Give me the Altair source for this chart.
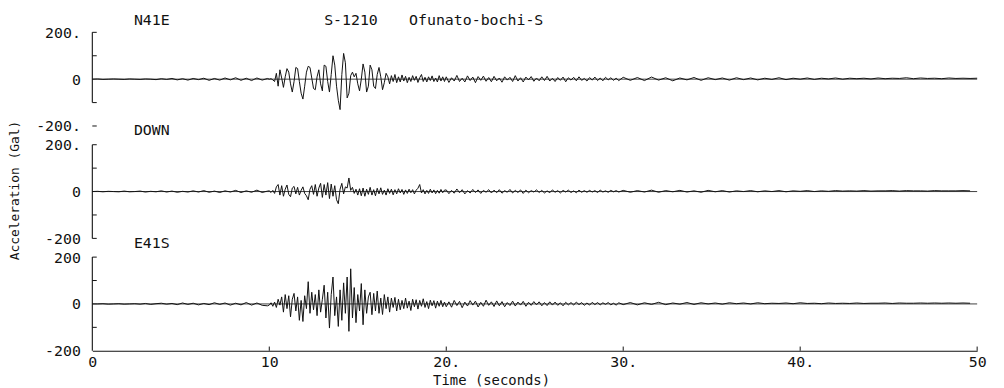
import altair as alt
import pandas as pd

# ---------------- data read from the record ----------------
COMPONENTS = ["N41E", "DOWN", "E41S"]
PANEL_OFFSET = [0, -480, -960]          # vertical stacking of the three traces (Gal units)

# sample-time grid (s)
T_A = [round(0.3 * i, 2) for i in range(34)]          # 0 - 9.9
T_B = [round(10 + 0.1 * i, 2) for i in range(100)]    # 10 - 19.9
T_C1 = [round(20 + 0.15 * i, 2) for i in range(66)]   # 20 - 29.75
T_C2 = [round(30 + 0.4 * i, 2) for i in range(51)]    # 30 - 50

N41E_A = [0, 1, -1, 0, 1, 0, -1, 1, 0, -1, 1, 0, -2, 2, -1, 3, -3, 2, -4, 3, -2, 4, -5, 3,
          -4, 5, -3, 6, -5, 4, -6, 5, -4, 3]
N41E_B = [0, 2, -3, -10, 25, -30, 40, 5, -35, 10,
          45, 30, -20, -55, -10, 50, 45, -10, -60, -85,
          -30, 30, 55, 50, 5, -40, -45, 10, 40, -20,
          -50, 60, 55, -10, -55, 20, 100, 60, -30, -90,
          -130, 20, 110, 70, -80, -60, 15, 30, 10, 25,
          -20, -50, 0, 65, 30, -55, -30, 60, 40, -30,
          -40, 20, 50, 10, -45, -15, 25, 10, -20, 15,
          -10, 20, -15, 10, -12, 18, -8, 12, -15, 8,
          -10, 15, -5, 12, -14, 6, 20, -10, 8, -12,
          10, -6, 14, -10, 5, -12, 15, -8, 10, -10]
N41E_C1 = [10, -14, 6, -8, 16, -10, 4, -12, 14, -6, 9, -15, 11, -5, 13, -9, 7, -11,
           12, -7, 5, -13, 10, -4, 8, -10, 15, -8, 6, -12, 9, -3, 11, -9, 5, -7,
           10, -6, 12, -8, 4, -10, 7, -5, 9, -11, 6, -4, 8, -7, 10, -5,
           3, -8, 7, -4, 9, -6, 5, -7, 8, -3, 6, -5, 4, -6]
N41E_C2 = [8, -5, 7, -6, 9, -4, 6, -7, 5, -3, 7, -5, 6, -2, 5, -4, 6,
           -2, 5, -3, 4, -1, 6, -2, 4, 0, 5, -1, 4, 1, 5, 0, 4, 2,
           4, 1, 5, 2, 4, 3, 6, 2, 5, 3, 4, 2, 5, 3, 4, 3, 4]

DOWN_A = [0, 1, -1, 1, 0, -1, 2, -1, 0, 2, -2, 1, -1, 3, -2, 2, -3, 1, -2, 3, -2, 4, -3, 2,
          -4, 3, -2, 5, -4, 3, -3, 6, -4, 2]
DOWN_B = [3, -4, 5, -8, 20, 30, -15, 25, -20, 10,
          28, -12, -22, 15, 22, -10, 18, -15, 5, 20,
          -8, -18, -35, 10, 25, -12, 30, -20, 15, 35,
          -25, 30, -15, 38, -30, 32, -20, 25, -35, -52,
          10, 35, -10, 20, 15, 58, 5, 18, -8, 10,
          -15, 12, -18, 15, -20, 10, -12, 18, -15, 8,
          -18, 14, -10, 16, -12, 6, -15, 12, -8, 10,
          -14, 8, -10, 12, -6, 9, -12, 7, -8, 10,
          -5, 8, -10, 6, 14, 30, -6, 8, -10, 5,
          -8, 10, -6, 7, -9, 5, -7, 9, -5, 6]
DOWN_C1 = [7, -9, 5, -7, 11, -5, 8, -10, 4, -6, 9, -4, 7, -8, 5, -3, 8, -6,
           6, -5, 8, -7, 4, -3, 9, -6, 5, -4, 7, -8, 6, -5, 4, -2, 7, -4,
           5, -6, 3, -5, 7, -3, 4, -6, 5, -2, 6, -4, 3, -5, 6, -3,
           4, -3, 5, -2, 4, -4, 6, -2, 3, -3, 5, -1, 4, -2]
DOWN_C2 = [5, -3, 4, -2, 6, -3, 4, -1, 5, -2, 3, -3, 5, -1, 4, -2, 3,
           0, 4, -1, 3, 0, 4, -1, 3, 1, 4, 0, 3, 1, 4, 2, 3,
           2, 4, 2, 3, 3, 4, 2, 4, 3, 3, 2, 4, 3, 3, 3, 4, 3]

E41S_A = [0, 0, 1, -1, 0, 1, -1, 0, 1, -1, 2, -2, 1, 3, -1, 2, -3, 4, -2, 3, -4, 2, -3, 5,
          -2, 4, -5, 3, -4, 6, -5, 4, -6, -8]
E41S_B = [-5, 5, -10, 8, -15, 20, -5, 30, -35, 40,
          -20, 35, -55, 20, 45, -30, 30, -70, 15, -75,
          35, -20, 95, -40, 50, -25, 40, -50, 60, -35,
          20, 80, -60, 50, -103, 40, 115, -50, 30, -96,
          60, -70, 90, -40, 115, -117, 150, -60, 70, -80,
          40, -30, 87, -89, 60, -40, 30, 50, -46, 45,
          -30, 55, -40, 25, -45, 40, -20, 30, -35, 25,
          -15, 28, -30, 20, -25, 15, -20, 25, -18, 12,
          -28, 20, -12, 18, -22, 15, -10, 22, -15, 10,
          -20, 16, -8, 14, -18, 12, -10, 15, -12, 8]
E41S_C1 = [-12, 9, -14, 15, -7, 11, -16, 8, -9, 14, -5, 12, -13, 7, -10, 16, -6, 9,
           -11, 13, -8, 10, -12, 6, -7, 12, -9, 8, -5, 11, -10, 7, -6, 10, -4, 9,
           -8, 6, -7, 9, -5, 8, -6, 5, -8, 7, -4, 6, -5, 8, -3, 6,
           -6, 4, -5, 7, -3, 6, -4, 5, -2, 6, -4, 3, -5, 5]
E41S_C2 = [-3, 6, -4, 5, -2, 7, -3, 4, -1, 6, -2, 5, 0, 4, -1, 5, 1,
           4, 0, 5, 1, 3, 2, 4, 1, 5, 2, 3, 1, 4, 2, 3, 2,
           4, 2, 3, 3, 4, 2, 4, 3, 3, 4, 3, 4, 3, 4, 3, 4, 3]

SERIES = {
    "N41E": (N41E_A, N41E_B, N41E_C1, N41E_C2),
    "DOWN": (DOWN_A, DOWN_B, DOWN_C1, DOWN_C2),
    "E41S": (E41S_A, E41S_B, E41S_C1, E41S_C2),
}
GRIDS = (T_A, T_B, T_C1, T_C2)

# per-panel axis labels
Y_TICK_VALUES = [200, 0, -200]
Y_TICK_TEXT = {
    "N41E": ["200.", "0", "-200."],
    "DOWN": ["200.", "0", "-200"],
    "E41S": ["200", "0", "-200"],
}
X_TICK_VALUES = [0, 10, 20, 30, 40, 50]
X_TICK_TEXT = ["0", "10", "20.", "30.", "40.", "50"]

# bracket extent of each panel's vertical axis (Gal) and its small ticks
BRACKET = {"N41E": (200, -100), "DOWN": (200, -200), "E41S": (200, -200)}
BRACKET_TICKS = {"N41E": [200, 100, -100, -200], "DOWN": [200, 100, -100, -200],
                 "E41S": [200, 100, -100]}

TITLE_TEXT = ["S-1210", "Ofunato-bochi-S"]
TITLE_T = [13.1, 17.9]
TITLE_Y = [251, 251]
LABEL_T = 2.35
LABEL_Y = [251, -219, -702]

# ---------------- tables ----------------
off = dict(zip(COMPONENTS, PANEL_OFFSET))
rows = []
for comp in COMPONENTS:
    for grid, vals in zip(GRIDS, SERIES[comp]):
        for tt, vv in zip(grid, vals):
            rows.append({"comp": comp, "t": tt, "acc": vv})
trace_df = pd.DataFrame(rows)

zero_df = pd.DataFrame({"comp": COMPONENTS, "t0": [0] * 3, "t1": [50] * 3, "acc": [0] * 3})
br_df = pd.DataFrame({"comp": COMPONENTS,
                      "top": [BRACKET[c][0] for c in COMPONENTS],
                      "bot": [BRACKET[c][1] for c in COMPONENTS]})
tk_rows = []
for comp in COMPONENTS:
    for v in BRACKET_TICKS[comp]:
        tk_rows.append({"comp": comp, "acc": v})
tk_df = pd.DataFrame(tk_rows)

xt_df = pd.DataFrame({"t": X_TICK_VALUES[1:]})
title_df = pd.DataFrame({"txt": TITLE_TEXT, "t": TITLE_T, "y": TITLE_Y})
lab_df = pd.DataFrame({"txt": COMPONENTS, "t": [LABEL_T] * 3, "y": LABEL_Y})

offset_expr = "datum.comp == 'N41E' ? %d : (datum.comp == 'DOWN' ? %d : %d)" % tuple(PANEL_OFFSET)

y_vals, y_txt = [], []
for comp in COMPONENTS:
    for v, s in zip(Y_TICK_VALUES, Y_TICK_TEXT[comp]):
        y_vals.append(v + off[comp])
        y_txt.append(s)


def map_expr(vals, texts):
    e = "''"
    for v, s in zip(reversed(vals), reversed(texts)):
        e = "datum.value == %s ? '%s' : (%s)" % (v, s, e)
    return e


Y_MIN = -200 + PANEL_OFFSET[-1]
Y_MAX = 200
FONT = "DejaVu Sans Mono"
INK = "#111111"

xscale = alt.Scale(domain=[0, 50], nice=False, zero=False)
yscale = alt.Scale(domain=[Y_MIN, Y_MAX], nice=False, zero=False)

x_axis = alt.Axis(values=X_TICK_VALUES, labelExpr=map_expr(X_TICK_VALUES, X_TICK_TEXT),
                  ticks=False, grid=False, domain=True, domainColor=INK, domainWidth=1.2,
                  labelFont=FONT, labelFontSize=15, labelColor=INK, labelPadding=4,
                  labelFlush=False,
                  title="Time (seconds)", titleFont=FONT, titleFontSize=14,
                  titleFontWeight="normal", titleColor=INK, titleX=402, titleY=30,
                  titleBaseline="middle", titleAlign="center")
y_axis = alt.Axis(values=y_vals, labelExpr=map_expr(y_vals, y_txt),
                  ticks=False, grid=False, domain=False,
                  labelFont=FONT, labelFontSize=15, labelColor=INK, labelPadding=12,
                  labelBaseline="middle",
                  title="Acceleration (Gal)", titleFont=FONT, titleFontSize=13,
                  titleFontWeight="normal", titleColor=INK, titleAngle=270,
                  titleX=-78, titleY=159, titleAlign="center", titleBaseline="middle")

traces = alt.Chart(trace_df).transform_calculate(
    y="datum.acc + (" + offset_expr + ")"
).mark_line(color=INK, strokeWidth=1).encode(
    x=alt.X("t:Q", scale=xscale, axis=x_axis),
    y=alt.Y("y:Q", scale=yscale, axis=y_axis),
    detail="comp:N",
)

zeros = alt.Chart(zero_df).transform_calculate(
    y="datum.acc + (" + offset_expr + ")"
).mark_rule(color=INK, strokeWidth=0.8).encode(
    x=alt.X("t0:Q", scale=xscale), x2="t1:Q", y=alt.Y("y:Q", scale=yscale)
)

brackets = alt.Chart(br_df).transform_calculate(
    y1="datum.top + (" + offset_expr + ")", y2="datum.bot + (" + offset_expr + ")",
    t0="0"
).mark_rule(color=INK, strokeWidth=1.1).encode(
    x=alt.X("t0:Q", scale=xscale), y=alt.Y("y1:Q", scale=yscale), y2="y2:Q"
)

yticks = alt.Chart(tk_df).transform_calculate(
    y="datum.acc + (" + offset_expr + ")", t0="0", t1="0.25"
).mark_rule(color=INK, strokeWidth=1).encode(
    x=alt.X("t0:Q", scale=xscale), x2="t1:Q", y=alt.Y("y:Q", scale=yscale)
)

xticks = alt.Chart(xt_df).transform_calculate(
    y0=str(Y_MIN), y1=str(Y_MIN + 18)
).mark_rule(color=INK, strokeWidth=1).encode(
    x=alt.X("t:Q", scale=xscale), y=alt.Y("y0:Q", scale=yscale), y2="y1:Q"
)

titles = alt.Chart(title_df).mark_text(
    font=FONT, fontSize=15, color=INK, align="left", baseline="middle"
).encode(x=alt.X("t:Q", scale=xscale), y=alt.Y("y:Q", scale=yscale), text="txt:N")

labels = alt.Chart(lab_df).mark_text(
    font=FONT, fontSize=15, color=INK, align="left", baseline="middle"
).encode(x=alt.X("t:Q", scale=xscale), y=alt.Y("y:Q", scale=yscale), text="txt:N")

chart = alt.layer(zeros, traces, brackets, yticks, xticks, titles, labels).properties(
    width=892, height=321,
    autosize=alt.AutoSizeParams(type="none"),
    padding={"left": 85, "top": 23, "right": 19, "bottom": 36},
    background="white",
).configure_view(stroke=None)

chart.save("out.html", embed_options={"renderer": "svg", "actions": False})
